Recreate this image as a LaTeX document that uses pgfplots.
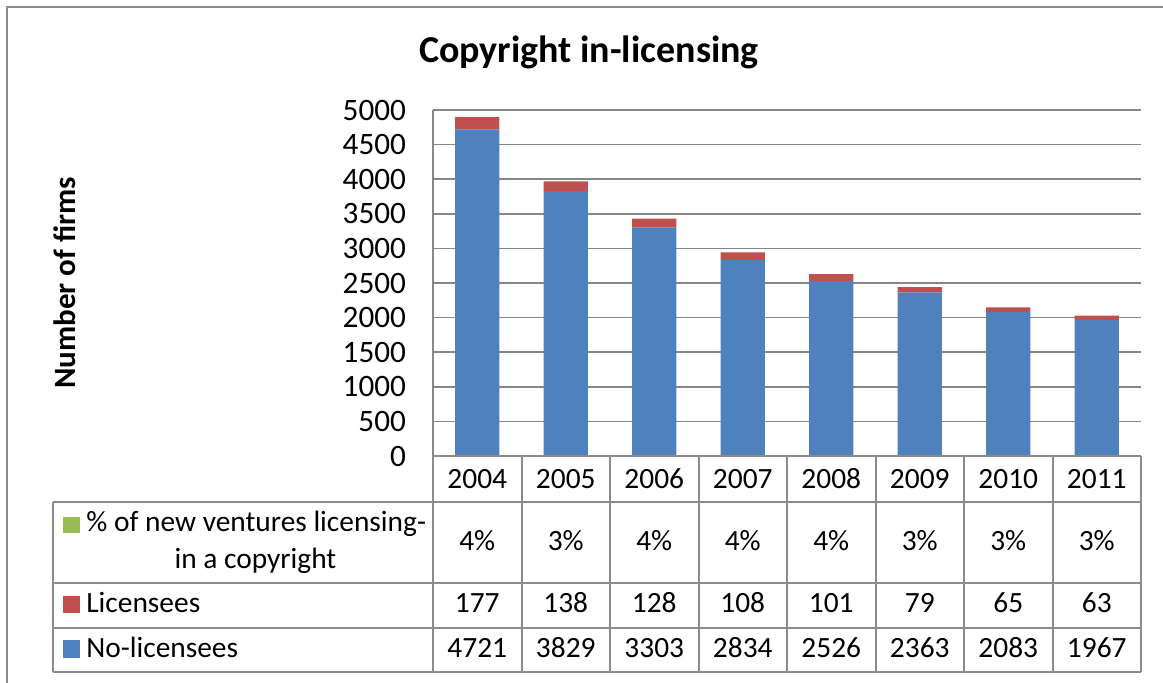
\documentclass[border=0pt]{standalone}
\usepackage{pgfplots}
\pgfplotsset{compat=1.18}
\usepackage{fontspec}
\setmainfont{Carlito}
\definecolor{noblue}{HTML}{4F81BD}
\definecolor{licred}{HTML}{C0504D}
\definecolor{pctgreen}{HTML}{9BBB59}
\definecolor{gridgray}{HTML}{868686}
\definecolor{tabgray}{HTML}{8C8C8C}
\newcommand{\tabfont}{\fontsize{14.7}{17}\selectfont}
\begin{document}
\begin{tikzpicture}[x=0.5pt, y=0.5pt]
  % canvas in pixels, origin bottom left
  \useasboundingbox (0,0) rectangle (1163,682);
  \draw[tabgray, line width=1pt] (7,-20) -- (7,675) -- (1200,675);

  \begin{axis}[
    at={(216.5pt,113pt)}, anchor=south west,
    scale only axis, width=354pt, height=173pt,
    ybar stacked, bar width=0.5,
    xmin=-0.5, xmax=7.5, ymin=0, ymax=5000,
    ytick={0,500,...,5000},
    xtick={0,...,7},
    xticklabels={2004,2005,2006,2007,2008,2009,2010,2011},
    axis x line*=bottom, axis y line*=left,
    x axis line style={draw=none},
    y axis line style={gridgray, line width=0.75pt},
    major tick length=0pt,
    ymajorgrids, grid style={gridgray, line width=0.75pt},
    tick label style={font=\tabfont},
    /pgf/number format/assume math mode=true,
    yticklabel style={/pgf/number format/set thousands separator={}, xshift=-10pt,
      font=\fontsize{15.6}{18}\selectfont},
    xticklabel style={anchor=base, yshift=-16pt},
    clip=false,
  ]
    \addplot[fill=noblue, draw=none] coordinates {
      (0,4721) (1,3829) (2,3303) (3,2834) (4,2526) (5,2363) (6,2083) (7,1967)};
    \addplot[fill=licred, draw=none] coordinates {
      (0,177) (1,138) (2,128) (3,108) (4,101) (5,79) (6,65) (7,63)};
  \end{axis}

  % data table
  \begin{scope}[tabgray, line width=1pt]
    \draw (433,226) -- (1141,226);
    \foreach \yy in {180,99,54,10} \draw (53,\yy) -- (1141,\yy);
    \draw (53,180) -- (53,10);
    \foreach \k in {0,...,8} \draw ({433+88.5*\k},226) -- ({433+88.5*\k},10);
  \end{scope}

  \fill[pctgreen] (63,149) rectangle (80,165);
  \fill[licred] (63,69) rectangle (80,86);
  \fill[noblue] (63,24) rectangle (80,42);
  \node[font=\tabfont, anchor=base west, inner sep=0pt] at (86,150.3) {\% of new ventures licensing-};
  \node[font=\tabfont, anchor=base, inner sep=0pt] at (255.5,114) {in a copyright};
  \node[font=\tabfont, anchor=base west, inner sep=0pt] at (86,69.3) {Licensees};
  \node[font=\tabfont, anchor=base west, inner sep=0pt] at (86,25) {No-licensees};

  \foreach \v [count=\i from 0] in {4,3,4,4,4,3,3,3}
    \node[font=\tabfont, anchor=base, inner sep=0pt] at ({433+88.5*(\i+0.5)},132) {\v\%};
  \foreach \v [count=\i from 0] in {177,138,128,108,101,79,65,63}
    \node[font=\tabfont, anchor=base, inner sep=0pt] at ({433+88.5*(\i+0.5)},69.3) {\v};
  \foreach \v [count=\i from 0] in {4721,3829,3303,2834,2526,2363,2083,1967}
    \node[font=\tabfont, anchor=base, inner sep=0pt] at ({433+88.5*(\i+0.5)},25) {\v};

  \node[font=\fontsize{19}{22}\selectfont\bfseries] at (589,630) {Copyright in-licensing};
  \node[font=\fontsize{15.5}{18}\selectfont\bfseries, rotate=90] at (65,399) {Number of firms};
\end{tikzpicture}
\end{document}
